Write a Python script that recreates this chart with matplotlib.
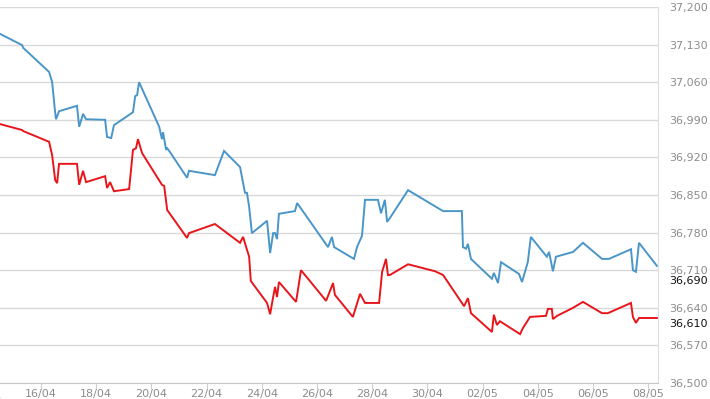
import matplotlib.pyplot as plt
import numpy as np

# days counted from 16/04
blue_x = [-1.49, -0.69, -0.65, 0.29, 0.40, 0.51, 0.54, 0.65, 1.30, 1.38, 1.52, 1.63, 2.32, 2.39,
          2.54, 2.64, 3.30, 3.33, 3.41, 3.48, 3.55, 4.28, 4.38, 4.42, 4.53, 4.57, 4.67, 5.29,
          5.36, 6.30, 6.63, 7.21, 7.39, 7.46, 7.54, 7.64, 8.19, 8.30, 8.41, 8.48, 8.55, 8.62,
          9.20, 9.28, 10.40, 10.54, 10.62, 11.34, 11.45, 11.63, 11.74, 12.21, 12.32, 12.46,
          12.54, 12.64, 13.30, 14.57, 15.25, 15.29, 15.40, 15.47, 15.58, 16.34, 16.41, 16.56,
          16.67, 17.32, 17.43, 17.64, 17.75, 18.33, 18.41, 18.55, 18.66, 19.28, 19.64, 20.33,
          20.58, 21.38, 21.45, 21.56, 21.67, 22.32]
blue_y = [37150, 37129, 37124, 37079, 37060, 37003, 36991, 37006, 37016, 36977, 37001, 36991,
          36990, 36958, 36956, 36980, 37003, 37004, 37034, 37036, 37060, 36977, 36954, 36967,
          36934, 36937, 36930, 36882, 36895, 36887, 36932, 36902, 36854, 36854, 36828, 36779,
          36802, 36742, 36779, 36779, 36768, 36815, 36820, 36835, 36753, 36772, 36753, 36731,
          36753, 36774, 36841, 36841, 36816, 36841, 36800, 36807, 36859, 36820, 36820, 36753,
          36750, 36759, 36731, 36694, 36705, 36686, 36725, 36703, 36688, 36725, 36772, 36735,
          36744, 36708, 36735, 36744, 36761, 36731, 36731, 36749, 36710, 36707, 36761, 36718]

red_x = [-1.49, -0.69, -0.65, 0.29, 0.40, 0.51, 0.58, 0.65, 1.30, 1.38, 1.52, 1.63, 2.32, 2.39,
         2.50, 2.64, 3.19, 3.33, 3.44, 3.51, 3.66, 4.38, 4.46, 4.57, 5.29, 5.36, 6.30, 7.21,
         7.32, 7.54, 7.60, 7.93, 8.19, 8.30, 8.41, 8.48, 8.55, 8.62, 9.24, 9.42, 10.33, 10.58,
         10.65, 11.30, 11.56, 11.74, 12.25, 12.36, 12.50, 12.57, 12.64, 13.30, 14.28, 14.57,
         15.33, 15.47, 15.58, 16.34, 16.41, 16.52, 16.63, 17.36, 17.46, 17.72, 18.30, 18.37,
         18.51, 18.55, 18.70, 19.28, 19.64, 20.33, 20.54, 21.38, 21.45, 21.56, 21.67, 22.32]
red_y = [36982, 36971, 36969, 36949, 36924, 36878, 36872, 36908, 36908, 36869, 36895, 36874,
         36885, 36863, 36874, 36857, 36861, 36934, 36937, 36954, 36928, 36869, 36867, 36822,
         36770, 36779, 36796, 36761, 36772, 36735, 36690, 36667, 36649, 36628, 36660, 36679,
         36660, 36688, 36651, 36710, 36653, 36686, 36664, 36623, 36666, 36649, 36649, 36707,
         36731, 36701, 36701, 36721, 36708, 36701, 36643, 36658, 36630, 36595, 36627, 36608,
         36615, 36591, 36602, 36623, 36625, 36638, 36638, 36619, 36625, 36640, 36651, 36630,
         36630, 36649, 36623, 36612, 36621, 36621]

date_labels = ['16/04', '18/04', '20/04', '22/04', '24/04', '26/04', '28/04', '30/04',
               '02/05', '04/05', '06/05', '08/05']
y_ticks = [36500, 36570, 36640, 36710, 36780, 36850, 36920, 36990, 37060, 37130, 37200]
last_blue_label = 36690
last_red_label = 36610

fig = plt.figure(figsize=(7.1, 3.99), dpi=100)
ax = fig.add_axes([0.0, 0.0401, 0.9268, 0.9424])

ax.plot(blue_x, blue_y, color='#4a96c8', lw=1.4, solid_joinstyle='miter')
ax.plot(red_x, red_y, color='#e8161b', lw=1.4, solid_joinstyle='miter')

ax.set_xlim(-1.49, 22.36)
ax.set_ylim(36500, 37200)

ax.set_yticks(y_ticks)
ax.set_yticklabels([f'{v:,}' for v in y_ticks])
ax.yaxis.tick_right()
ax.tick_params(axis='y', length=0, pad=8, labelsize=8, labelcolor='#8c8c8c')
ax.grid(axis='y', color='#d9d9d9', lw=1)

ax.set_xticks(np.arange(0, 24, 2))
ax.set_xticklabels(date_labels)
ax.tick_params(axis='x', length=4, color='#d0d0d0', pad=0, labelsize=8, labelcolor='#8c8c8c')
ax.text(-2, -0.024, '14/04', transform=ax.get_xaxis_transform(), ha='center', va='top',
        fontsize=8, color='#8c8c8c', clip_on=False)

for side in ['top', 'left']:
    ax.spines[side].set_visible(False)
ax.spines['bottom'].set_color('#c8c8c8')
ax.spines['right'].set_color('#dddddd')

# last value markers
ax.text(1.0165, last_blue_label, f'{last_blue_label:,}', transform=ax.get_yaxis_transform(),
        va='center', ha='left', fontsize=8, color='#111111')
ax.text(1.0165, last_red_label, f'{last_red_label:,}', transform=ax.get_yaxis_transform(),
        va='center', ha='left', fontsize=8, color='#111111')

fig.savefig('out.png', dpi=100)
